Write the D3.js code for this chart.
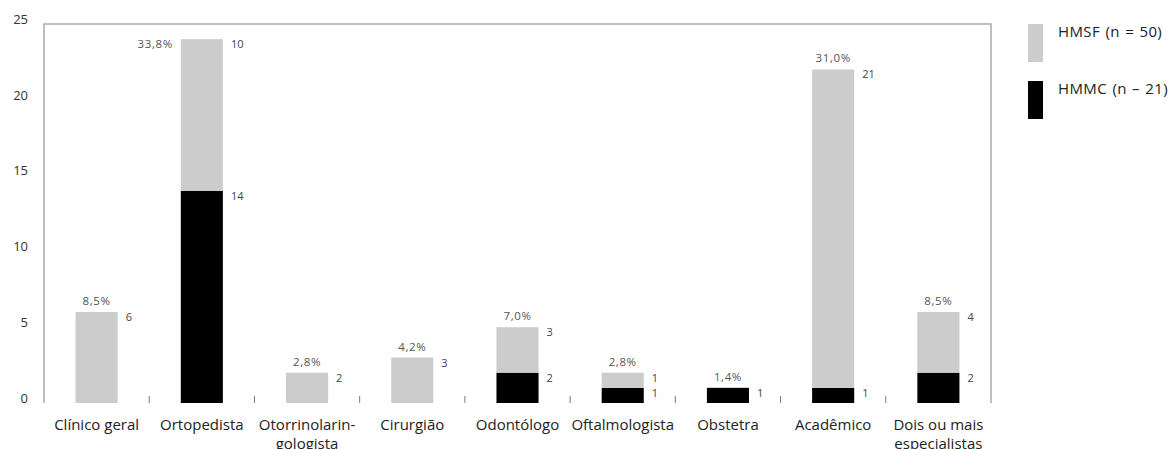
<!DOCTYPE html>
<html>
<head>
<meta charset="utf-8">
<script src="https://cdn.jsdelivr.net/npm/d3@7"></script>
<style>
  body { margin: 0; background: #fff; }
  svg { display: block; font-family: "Open Sans", "Noto Sans", sans-serif; }
</style>
</head>
<body>
<div id="chart"></div>
<script>
// categories (label lines) and series values
const categories = [
  ["Clínico geral"], ["Ortopedista"], ["Otorrinolarin-", "gologista"], ["Cirurgião"],
  ["Odontólogo"], ["Oftalmologista"], ["Obstetra"], ["Acadêmico"], ["Dois ou mais", "especialistas"]
];
const hmmc = [0, 14, 0, 0, 2, 1, 1, 1, 2];   // black, bottom
const hmsf = [6, 10, 2, 3, 3, 1, 0, 21, 4];  // gray, top
const percents = ["8,5%", "33,8%", "2,8%", "4,2%", "7,0%", "2,8%", "1,4%", "31,0%", "8,5%"];
const yTicks = [0, 5, 10, 15, 20, 25];
const legendItems = [
  {label: "HMSF (n = 50)", color: "#cccccc"},
  {label: "HMMC (n – 21)", color: "#000000"}
];

const width = 1172, height = 449;
const margin = {top: 24, right: 181, bottom: 46, left: 44};

const svg = d3.select("#chart").append("svg")
  .attr("width", width)
  .attr("height", height);

const x = d3.scaleBand()
  .domain(d3.range(categories.length))
  .range([margin.left, width - margin.right])
  .paddingInner(0.6)
  .paddingOuter(0.3);

const y = d3.scaleLinear()
  .domain([0, 25])
  .range([height - margin.bottom, margin.top]);

const frameColor = "#aaaaaa";

// frame: left, top, right (no bottom line)
svg.append("path")
  .attr("d", `M${margin.left},${y(0)}V${y(25)}H${width - margin.right}V${y(0)}`)
  .attr("fill", "none")
  .attr("stroke", frameColor)
  .attr("stroke-width", 1.5);

// y axis labels
const yAxis = svg.append("g")
  .attr("transform", `translate(${margin.left},0)`)
  .call(d3.axisLeft(y).tickValues(yTicks).tickSize(0).tickPadding(16));
yAxis.select(".domain").remove();
yAxis.selectAll("text")
  .attr("dy", "-0.05em")
  .style("font-size", "13px")
  .style("font-family", "'Open Sans', sans-serif")
  .attr("fill", "#333");

// category separator ticks
const step = x.step();
svg.append("g").selectAll("line")
  .data(d3.range(1, categories.length))
  .join("line")
  .attr("x1", i => x(i) - (step - x.bandwidth()) / 2)
  .attr("x2", i => x(i) - (step - x.bandwidth()) / 2)
  .attr("y1", y(0) - 7)
  .attr("y2", y(0))
  .attr("stroke", "#777")
  .attr("stroke-width", 1);

// bars
const bw = x.bandwidth();
const g = svg.append("g");
categories.forEach((c, i) => {
  const b = hmmc[i], s = hmsf[i];
  if (b > 0) {
    g.append("rect")
      .attr("x", x(i)).attr("width", bw)
      .attr("y", y(b)).attr("height", y(0) - y(b))
      .attr("fill", "#000");
    g.append("text")
      .attr("x", x(i) + bw + 8).attr("y", y(b) + 9)
      .text(b);
  }
  if (s > 0) {
    g.append("rect")
      .attr("x", x(i)).attr("width", bw)
      .attr("y", y(b + s)).attr("height", y(b) - y(b + s))
      .attr("fill", "#cccccc");
    g.append("text")
      .attr("x", x(i) + bw + 8).attr("y", y(b + s) + 9)
      .text(s);
  }
  const total = b + s;
  const pct = g.append("text").attr("class", "pct").text(percents[i]);
  if (total >= 23) {
    pct.attr("x", x(i) - 8).attr("y", y(total) + 9).attr("text-anchor", "end");
  } else {
    pct.attr("x", x(i) + bw / 2).attr("y", y(total) - 7).attr("text-anchor", "middle");
  }
});
g.selectAll("text")
  .style("font-size", "11px")
  .attr("fill", "#444");
g.selectAll("text.pct")
  .style("font-size", "11.5px")
  .style("letter-spacing", "0.6px")
  .attr("fill", "#555");

// category labels
const xl = svg.append("g");
categories.forEach((lines, i) => {
  lines.forEach((ln, k) => {
    xl.append("text")
      .attr("x", x(i) + bw / 2)
      .attr("y", y(0) + 27 + k * 19)
      .attr("text-anchor", "middle")
      .style("font-size", "15px")
      .attr("fill", "#222")
      .text(ln);
  });
});

// legend
const lg = svg.append("g").attr("transform", `translate(${1028},${24})`);
legendItems.forEach((d, i) => {
  lg.append("rect")
    .attr("x", 0).attr("y", i * 57)
    .attr("width", 15).attr("height", 38)
    .attr("fill", d.color);
  lg.append("text")
    .attr("x", 30).attr("y", i * 57 + 13)
    .style("font-size", "15px")
    .style("letter-spacing", "0.4px")
    .style("word-spacing", "1px")
    .attr("fill", "#222")
    .text(d.label);
});
</script>
</body>
</html>
